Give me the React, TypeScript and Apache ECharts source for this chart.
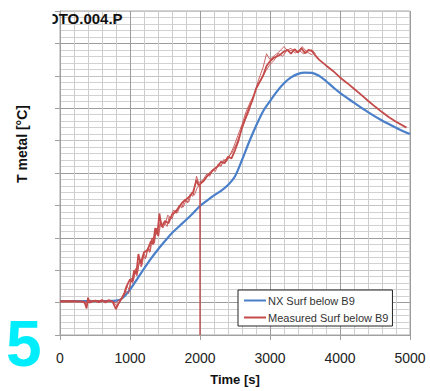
import React, { useEffect, useRef } from "react";
import * as echarts from "echarts";

const titleText = "OTO.004.P";
const xAxisName = "Time [s]";
const yAxisName = "T metal [°C]";
const pageMark = "5";
const seriesNames = ["NX Surf below B9", "Measured Surf below B9"];

const blueTimes = [0, 200, 400, 600, 800, 900, 1000, 1100, 1200, 1300, 1400, 1500, 1600, 1700, 1800, 1900, 2000, 2100, 2200, 2300, 2400, 2500, 2600, 2700, 2800, 2900, 3000, 3100, 3200, 3300, 3400, 3500, 3600, 3700, 3800, 3900, 4000, 4200, 4400, 4600, 4800, 5000];
const blueValues = [105, 105, 105, 105, 106, 115, 140, 172, 205, 236, 264, 290, 315, 335, 355, 376, 398, 415, 431, 445, 463, 490, 540, 595, 645, 690, 722, 752, 777, 795, 806, 810, 809, 800, 784, 765, 747, 717, 688, 662, 640, 620];

const redATimes = [0, 100, 200, 300, 350, 380, 400, 420, 500, 550, 600, 650, 700, 750, 800, 830, 880, 920, 950, 1000, 1030, 1060, 1090, 1120, 1150, 1200, 1250, 1300, 1330, 1360, 1390, 1420, 1450, 1500, 1550, 1600, 1650, 1700, 1750, 1800, 1850, 1900, 1950, 1980, 2050, 2100, 2150, 2200, 2250, 2300, 2350, 2400, 2450, 2500, 2550, 2600, 2650, 2700, 2750, 2800, 2850, 2900, 2950, 3000, 3050, 3100, 3150, 3200, 3250, 3300, 3350, 3400, 3450, 3500, 3550, 3600, 3650, 3700, 3800, 3900, 4000, 4100, 4200, 4300, 4400, 4500, 4600, 4700, 4800, 4950];
const redAValues = [103, 104, 103, 104, 102, 82, 115, 100, 106, 101, 108, 100, 107, 103, 80, 96, 112, 130, 150, 172, 165, 200, 188, 250, 220, 255, 262, 290, 280, 330, 310, 375, 335, 352, 345, 372, 380, 395, 410, 418, 428, 440, 478, 462, 475, 490, 500, 512, 520, 535, 530, 550, 545, 570, 600, 640, 670, 700, 725, 760, 780, 800, 830, 845, 855, 860, 866, 875, 880, 868, 882, 872, 885, 870, 880, 876, 862, 850, 832, 815, 795, 778, 760, 742, 723, 705, 688, 672, 658, 640];

const redBTimes = [0, 150, 300, 380, 420, 500, 600, 700, 780, 820, 870, 920, 960, 990, 1020, 1050, 1080, 1110, 1140, 1170, 1200, 1230, 1260, 1290, 1320, 1350, 1380, 1410, 1440, 1470, 1500, 1530, 1560, 1600, 1640, 1680, 1720, 1760, 1800, 1840, 1880, 1920, 1960, 1996, 2000, 2004, 2080, 2150, 2220, 2300, 2380, 2450, 2520, 2580, 2640, 2700, 2760, 2820, 2880, 2940, 3000, 3060, 3120, 3180, 3240, 3300, 3360, 3420, 3480, 3540, 3600];
const redBValues = [106, 105, 103, 95, 108, 104, 102, 108, 98, 88, 108, 125, 150, 140, 175, 168, 205, 195, 235, 215, 250, 240, 270, 258, 300, 285, 330, 305, 350, 330, 345, 335, 365, 358, 385, 378, 400, 395, 415, 410, 440, 432, 455, 460, 0, 470, 482, 505, 515, 525, 545, 560, 590, 625, 660, 690, 735, 770, 790, 815, 835, 848, 870, 860, 878, 885, 870, 878, 868, 872, 865];

const redCTimes = [0, 200, 400, 500, 700, 800, 900, 950, 980, 1010, 1040, 1070, 1100, 1130, 1160, 1190, 1220, 1250, 1280, 1310, 1340, 1370, 1400, 1430, 1460, 1500, 1540, 1580, 1620, 1660, 1700, 1740, 1780, 1820, 1860, 1900, 1950, 1980, 2040, 2100, 2140, 2180, 2220, 2260, 2300, 2340, 2380, 2420, 2480, 2540, 2600, 2660, 2720, 2780, 2840, 2900, 2950, 3000, 3060, 3120, 3200, 3260, 3320, 3400, 3460, 3520, 3600, 3650];
const redCValues = [104, 106, 100, 107, 104, 100, 118, 135, 128, 168, 160, 195, 182, 225, 210, 245, 235, 268, 255, 298, 282, 320, 305, 348, 332, 342, 370, 360, 385, 375, 400, 392, 418, 408, 435, 428, 490, 470, 478, 498, 490, 510, 505, 528, 520, 542, 535, 552, 580, 615, 650, 690, 720, 745, 790, 825, 868, 850, 862, 872, 890, 875, 880, 875, 890, 875, 880, 868];

const xTicks = { min: 0, max: 5000, interval: 1000 };
const yTicks = { min: 0, max: 1000, interval: 100 };

const pairs = (t: number[], v: number[]) => t.map((x, i) => [x, v[i]]);

export default function App() {
  const ref = useRef<HTMLDivElement>(null);
  useEffect(() => {
    if (!ref.current) return;
    const chart = echarts.init(ref.current, null, { renderer: "svg" });
    const font = "Liberation Sans, Arial, sans-serif";
    const red = "#c54b4b";
    const blue = "#4a7fc9";
    chart.setOption({
      animation: false,
      backgroundColor: "#ffffff",
      textStyle: { fontFamily: font },
      grid: { left: 60, right: 20, top: 11, bottom: 55, show: true, borderColor: "#a8a8a8", borderWidth: 1, backgroundColor: "#fff" },
      legend: {
        data: seriesNames,
        orient: "vertical",
        left: 238,
        top: 290,
        icon: "rect",
        itemWidth: 22,
        itemHeight: 2,
        itemGap: 6,
        padding: [5, 4, 3, 6],
        backgroundColor: "#fff",
        borderColor: "#222",
        borderWidth: 1,
        textStyle: { fontSize: 11, color: "#333", fontFamily: font, padding: [0, 0, 0, -3] },
      },
      xAxis: {
        type: "value",
        min: xTicks.min,
        max: xTicks.max,
        interval: xTicks.interval,
        name: xAxisName,
        nameLocation: "middle",
        nameGap: 38,
        nameTextStyle: { fontSize: 13, fontWeight: "bold", color: "#111" },
        axisLine: { show: true, lineStyle: { color: "#a0a0a0" } },
        axisTick: { show: true, length: 5, lineStyle: { color: "#a0a0a0" } },
        axisLabel: { fontSize: 14, color: "#222", margin: 16, formatter: (v: number) => String(v) },
        splitLine: { show: true, showMinLine: true, showMaxLine: true, lineStyle: { color: "#9c9c9c", width: 1 } },
        minorTick: { show: false, splitNumber: 5 },
        minorSplitLine: { show: true, lineStyle: { color: "#cdcdcd", width: 1 } },
      },
      yAxis: {
        type: "value",
        min: yTicks.min,
        max: yTicks.max,
        interval: yTicks.interval,
        axisLine: { show: true, lineStyle: { color: "#a0a0a0" } },
        axisTick: { show: true, length: 5, lineStyle: { color: "#a0a0a0" } },
        axisLabel: { show: false },
        splitLine: { show: true, showMinLine: true, showMaxLine: true, lineStyle: { color: ["#c4c4c4", "#9c9c9c"], width: 1 } },
        minorTick: { show: false, splitNumber: 5 },
        minorSplitLine: { show: true, lineStyle: { color: "#d2d2d2", width: 1 } },
      },
      series: [
        { name: seriesNames[0], type: "line", data: pairs(blueTimes, blueValues), showSymbol: false, smooth: 0.3, lineStyle: { color: blue, width: 2.2 }, itemStyle: { color: blue } },
        { name: seriesNames[1], type: "line", data: pairs(redBTimes, redBValues), showSymbol: false, lineStyle: { color: red, width: 1, opacity: 0.85 }, itemStyle: { color: red } },
        { name: seriesNames[1], type: "line", data: pairs(redCTimes, redCValues), showSymbol: false, lineStyle: { color: red, width: 1, opacity: 0.85 }, itemStyle: { color: red } },
        { name: seriesNames[1], type: "line", data: pairs(redATimes, redAValues), showSymbol: false, lineStyle: { color: red, width: 1.8 }, itemStyle: { color: red } },
      ],
      graphic: [
        { type: "text", left: 47, top: 11, z: 100, style: { text: titleText, font: "bold 15px " + font, fill: "#111" } },
        { type: "rect", shape: { x: 40, y: 9, width: 12.5, height: 17 }, z: 101, style: { fill: "#fff" } },
        { type: "text", x: 22, y: 144, rotation: Math.PI / 2, z: 100, style: { text: yAxisName, font: "bold 14px " + font, fill: "#111", align: "center", verticalAlign: "middle" } },
        { type: "text", left: 6, top: 312, z: 100, style: { text: pageMark, font: "bold 64px " + font, fill: "#00eefc" } },
      ],
    });
    return () => chart.dispose();
  }, []);
  return <div ref={ref} style={{ width: 430, height: 391, position: "absolute", left: 0, top: 0 }} />;
}
